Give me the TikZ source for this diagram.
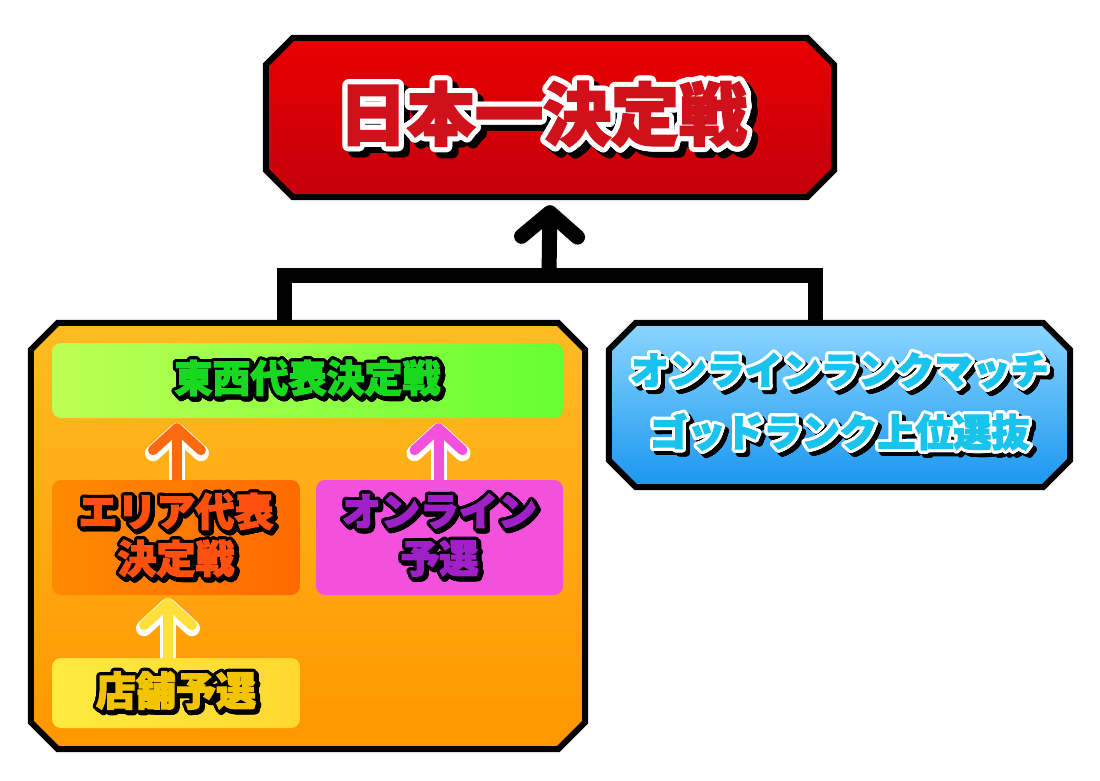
\documentclass[tikz,border=0pt]{standalone}
\usepackage{fontspec}
\newfontfamily\cjk{Noto Sans CJK JP}[BoldFeatures={FakeBold=3}]
\usepackage[copies]{contour}
\contournumber{32}
\usetikzlibrary{arrows.meta}
\definecolor{titletop}{HTML}{E80000}
\definecolor{titlebot}{HTML}{C4000C}
\definecolor{leaguetop}{HTML}{FFBC22}
\definecolor{leaguebot}{HTML}{FF9600}
\definecolor{ranktop}{HTML}{8AD6FF}
\definecolor{rankbot}{HTML}{1B96F0}
\definecolor{greenL}{HTML}{BDFF55}
\definecolor{greenR}{HTML}{66FF33}
\definecolor{areaL}{HTML}{FF8A00}
\definecolor{areaR}{HTML}{FF6A00}
\definecolor{onlineC}{HTML}{F250DD}
\definecolor{shopL}{HTML}{FFEA40}
\definecolor{shopR}{HTML}{FFD830}
\definecolor{arrowO}{HTML}{FF6A10}
\definecolor{arrowP}{HTML}{F250DD}
\definecolor{arrowY}{HTML}{FFE03A}
\definecolor{textT}{HTML}{D0101A}
\definecolor{textG}{HTML}{18D820}
\definecolor{textO}{HTML}{FF5010}
\definecolor{textP}{HTML}{A020C8}
\definecolor{textY}{HTML}{F2C400}
\definecolor{textB}{HTML}{18C4EE}
% fill, outline, outline width, shadow, shadow shift, text
\newcommand\fxtext[6]{\makebox[0pt][l]{\hspace*{#5}\raisebox{-#5}{\contourlength{#3}\color{#4}\contour{#4}{#6}}}{\contourlength{#3}\color{#1}\contour{#2}{#6}}}
% node, chamfer
\newcommand\chamferbox[2]{([xshift=#2]#1.north west) -- ([xshift=-#2]#1.north east) -- ([yshift=-#2]#1.north east)
  -- ([yshift=#2]#1.south east) -- ([xshift=-#2]#1.south east) -- ([xshift=#2]#1.south west)
  -- ([yshift=#2]#1.south west) -- ([yshift=-#2]#1.north west) -- cycle}
\begin{document}
\begin{tikzpicture}[x=1pt,y=-1pt,
  stagebox/.style={draw=black,line width=6pt,line join=miter},
  subbox/.style={rounded corners=9pt,inner sep=0pt},
  label/.style={align=center,inner sep=0pt},
  bracket/.style={line width=15pt,line join=miter},
  bigarrow/.style={line width=15pt,-{Straight Barb[round,length=24pt,width=56pt]}},
  flowarrow/.style={line width=10pt,draw=#1,preaction={draw=white,line width=16pt},
    -{Straight Barb[round,length=22pt,width=48pt]}}]
\useasboundingbox (0,0) rectangle (1100,780);

% big boxes
\path node[minimum width=568pt,minimum height=159pt,inner sep=0pt] (title) at (550,117.5) {}
      node[minimum width=554pt,minimum height=426pt,inner sep=0pt] (league) at (308,536) {}
      node[minimum width=461pt,minimum height=164pt,inner sep=0pt] (rank) at (839.5,405) {};

% connectors
\coordinate (join) at (549,275);
\draw[bracket] ([xshift=-24pt]league.north) |- (join) -| ([xshift=-24pt]rank.north);
\draw[bigarrow] (join) -- ([yshift=-8pt]title.south);

\draw[stagebox,top color=titletop,bottom color=titlebot] \chamferbox{title}{27pt};
\draw[stagebox,top color=leaguetop,bottom color=leaguebot] \chamferbox{league}{27pt};
\draw[stagebox,top color=ranktop,bottom color=rankbot] \chamferbox{rank}{27pt};

\node[label,font=\cjk\bfseries\fontsize{68}{70}\selectfont] (titletext) at ([xshift=-7pt,yshift=-2pt]title.center)
  {\fxtext{textT}{white}{5pt}{black}{6pt}{日本一決定戦}};
\node[label,font=\cjk\bfseries\fontsize{38}{62}\selectfont] (ranktext) at (rank)
  {\fxtext{textB}{white}{3pt}{black}{4pt}{オンラインランクマッチ}\\
   \fxtext{textB}{white}{3pt}{black}{4pt}{ゴッドランク上位選抜}};

% inner boxes
\node[subbox,left color=greenL,right color=greenR,minimum width=511pt,minimum height=75pt,
  font=\cjk\bfseries\fontsize{38}{42}\selectfont] (eastwest) at (307.5,380.5)
  {\fxtext{textG}{black}{3pt}{black}{2pt}{東西代表決定戦}};
\node[subbox,left color=areaL,right color=areaR,minimum width=248pt,minimum height=115pt,
  font=\cjk\bfseries\fontsize{39}{47}\selectfont,align=center] (area) at (176,537.5)
  {\fxtext{textO}{black}{3pt}{black}{2pt}{エリア代表}\\\fxtext{textO}{black}{3pt}{black}{2pt}{決定戦}};
\node[subbox,fill=onlineC,minimum width=247pt,minimum height=115pt,
  font=\cjk\bfseries\fontsize{39}{47}\selectfont,align=center] (online) at (439.5,537.5)
  {\fxtext{textP}{black}{3pt}{black}{2pt}{オンライン}\\\fxtext{textP}{black}{3pt}{black}{2pt}{予選}};
\node[subbox,left color=shopL,right color=shopR,minimum width=248pt,minimum height=70pt,
  font=\cjk\bfseries\fontsize{40}{46}\selectfont] (shop) at (176,693)
  {\fxtext{textY}{black}{3pt}{black}{2pt}{店舗予選}};

\draw[flowarrow=arrowO] ([xshift=1pt]area.north) -- ([xshift=1pt,yshift=-5pt]eastwest.south -| area.north);
\draw[flowarrow=arrowP] ([xshift=-1pt]online.north) -- ([xshift=-1pt,yshift=-5pt]eastwest.south -| online.north);
\draw[flowarrow=arrowY] ([xshift=-8pt]shop.north) -- ([xshift=-8pt,yshift=-3pt]area.south -| shop.north);
\end{tikzpicture}
\end{document}
